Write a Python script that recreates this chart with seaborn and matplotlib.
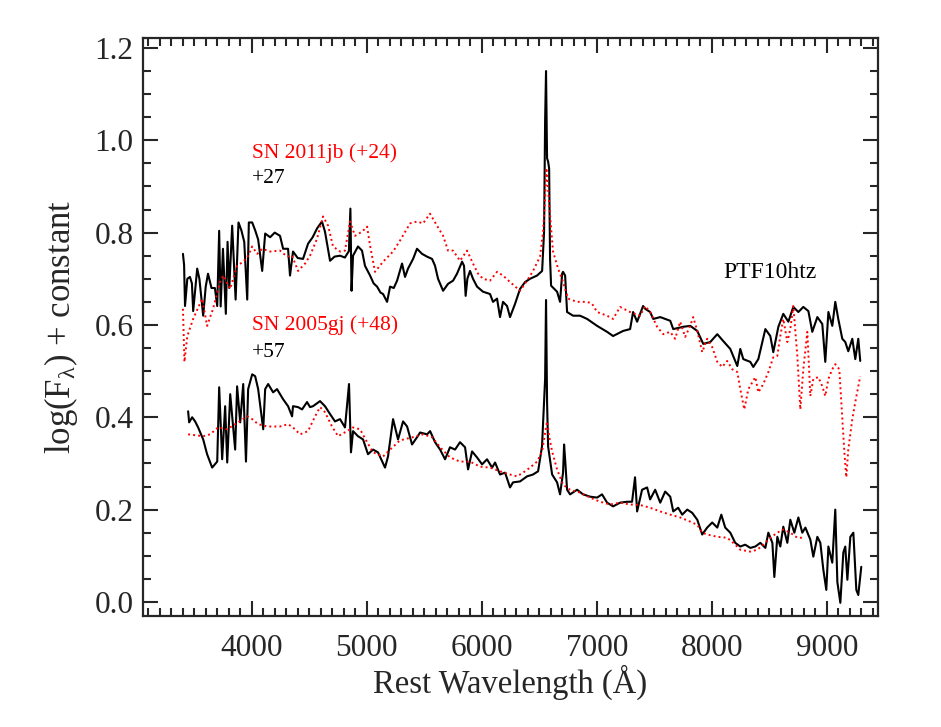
import matplotlib
matplotlib.use("Agg")
import matplotlib.pyplot as plt
import seaborn as sns
from matplotlib.ticker import MultipleLocator, FormatStrFormatter

# PTF10htz at +27 d (upper, black) and SN 2011jb at +24 d (upper, red)
ptf27_wave = [3402, 3412, 3420, 3440, 3463, 3480, 3491, 3526, 3545, 3578, 3600, 3620, 3650, 3680,
              3700, 3717, 3730, 3750, 3775, 3790, 3805, 3830, 3860, 3885, 3910, 3935, 3961, 3975,
              4004, 4030, 4056, 4091, 4117, 4160, 4200, 4246, 4273, 4316, 4333, 4359, 4400, 4446,
              4490, 4530, 4568, 4611, 4637, 4681, 4720, 4768, 4810, 4845, 4858, 4868, 4881, 4924,
              4959, 4985, 5029, 5060, 5090, 5120, 5142, 5177, 5203, 5235, 5264, 5307, 5333, 5359,
              5403, 5437, 5481, 5524, 5568, 5594, 5620, 5664, 5707, 5751, 5785, 5829, 5846, 5860,
              5875, 5898, 5924, 5959, 6011, 6072, 6098, 6133, 6159, 6185, 6220, 6246, 6290, 6333,
              6377, 6420, 6481, 6525, 6542, 6551, 6559, 6568, 6577, 6586, 6594, 6603, 6655, 6681,
              6699, 6707, 6725, 6742, 6794, 6855, 6916, 7003, 7090, 7142, 7229, 7290, 7316, 7351,
              7403, 7421, 7464, 7491, 7552, 7639, 7665, 7752, 7813, 7874, 7926, 7987, 8048, 8100,
              8161, 8222, 8248, 8274, 8335, 8361, 8405, 8466, 8509, 8535, 8579, 8622, 8666, 8709,
              8753, 8796, 8840, 8874, 8918, 8961, 8987, 9014, 9048, 9074, 9100, 9135, 9161, 9187,
              9222, 9248, 9274, 9291]
ptf27_flux = [0.754, 0.730, 0.641, 0.700, 0.704, 0.690, 0.630, 0.722, 0.700, 0.620, 0.683, 0.711, 0.680, 0.680,
              0.641, 0.804, 0.640, 0.765, 0.624, 0.780, 0.680, 0.815, 0.655, 0.822, 0.805, 0.780, 0.655, 0.822,
              0.822, 0.805, 0.785, 0.717, 0.798, 0.790, 0.800, 0.793, 0.765, 0.765, 0.707, 0.759, 0.745, 0.743,
              0.776, 0.790, 0.809, 0.824, 0.802, 0.739, 0.748, 0.750, 0.746, 0.760, 0.852, 0.674, 0.750, 0.770,
              0.761, 0.728, 0.707, 0.690, 0.683, 0.670, 0.667, 0.650, 0.683, 0.680, 0.696, 0.733, 0.704, 0.722,
              0.743, 0.765, 0.754, 0.748, 0.743, 0.728, 0.700, 0.674, 0.689, 0.696, 0.711, 0.737, 0.728, 0.663,
              0.700, 0.717, 0.700, 0.683, 0.672, 0.667, 0.650, 0.657, 0.617, 0.650, 0.641, 0.617, 0.646, 0.678,
              0.693, 0.700, 0.707, 0.717, 0.802, 1.043, 1.150, 0.961, 0.954, 0.939, 0.743, 0.685, 0.672, 0.650,
              0.711, 0.715, 0.707, 0.628, 0.620, 0.620, 0.613, 0.598, 0.585, 0.576, 0.587, 0.591, 0.628, 0.607,
              0.641, 0.635, 0.628, 0.613, 0.617, 0.609, 0.591, 0.596, 0.598, 0.587, 0.559, 0.563, 0.580, 0.565,
              0.548, 0.511, 0.548, 0.526, 0.520, 0.509, 0.526, 0.591, 0.576, 0.541, 0.596, 0.624, 0.607, 0.639,
              0.628, 0.639, 0.630, 0.585, 0.617, 0.602, 0.520, 0.628, 0.598, 0.650, 0.613, 0.570, 0.563, 0.543,
              0.570, 0.526, 0.570, 0.522]

sn11jb_wave = [3402, 3415, 3440, 3491, 3569, 3612, 3664, 3725, 3752, 3812, 3873, 3926, 3969, 4004,
               4048, 4091, 4160, 4246, 4307, 4351, 4403, 4464, 4507, 4568, 4620, 4664, 4707, 4768,
               4811, 4855, 4898, 4959, 5003, 5029, 5072, 5142, 5229, 5290, 5377, 5437, 5490, 5550,
               5611, 5664, 5707, 5751, 5811, 5872, 5924, 5968, 6011, 6072, 6133, 6185, 6246, 6333,
               6394, 6446, 6507, 6533, 6550, 6562, 6575, 6594, 6620, 6664, 6707, 6751, 6829, 6916,
               6959, 7003, 7090, 7142, 7203, 7290, 7377, 7421, 7464, 7525, 7578, 7639, 7682, 7725,
               7769, 7812, 7839, 7874, 7917, 7960, 8004, 8048, 8091, 8134, 8178, 8222, 8248, 8283,
               8318, 8379, 8405, 8448, 8492, 8535, 8570, 8596, 8622, 8657, 8683, 8709, 8744, 8770,
               8796, 8831, 8857, 8883, 8927, 8961, 8987, 9014, 9048, 9074, 9109, 9135, 9153, 9170,
               9187, 9222, 9248, 9291]
sn11jb_flux = [0.635, 0.520, 0.576, 0.613, 0.657, 0.598, 0.635, 0.693, 0.707, 0.678, 0.728, 0.737, 0.750, 0.770,
               0.754, 0.765, 0.759, 0.761, 0.748, 0.750, 0.717, 0.733, 0.750, 0.787, 0.835, 0.815, 0.770, 0.759,
               0.761, 0.824, 0.793, 0.802, 0.813, 0.772, 0.715, 0.737, 0.759, 0.783, 0.820, 0.824, 0.820, 0.841,
               0.815, 0.793, 0.761, 0.761, 0.739, 0.761, 0.733, 0.711, 0.700, 0.696, 0.715, 0.707, 0.693, 0.674,
               0.696, 0.717, 0.748, 0.802, 0.870, 0.940, 0.900, 0.837, 0.759, 0.722, 0.693, 0.657, 0.650, 0.650,
               0.646, 0.628, 0.620, 0.613, 0.639, 0.628, 0.620, 0.641, 0.628, 0.596, 0.580, 0.585, 0.570, 0.607,
               0.574, 0.598, 0.617, 0.587, 0.541, 0.570, 0.552, 0.520, 0.509, 0.522, 0.504, 0.498, 0.461, 0.417,
               0.461, 0.487, 0.454, 0.472, 0.498, 0.530, 0.533, 0.576, 0.613, 0.563, 0.591, 0.641, 0.533, 0.417,
               0.504, 0.585, 0.446, 0.483, 0.487, 0.467, 0.446, 0.483, 0.504, 0.515, 0.504, 0.396, 0.324, 0.270,
               0.330, 0.396, 0.433, 0.489]

# PTF10htz at +57 d (lower, black) and SN 2005gj at +48 d (lower, red)
ptf57_wave = [3447, 3456, 3482, 3508, 3534, 3578, 3612, 3656, 3700, 3717, 3743, 3769, 3787, 3813,
              3856, 3873, 3900, 3926, 3950, 3969, 4004, 4030, 4056, 4100, 4117, 4143, 4186, 4220,
              4273, 4316, 4351, 4359, 4403, 4438, 4481, 4507, 4533, 4594, 4637, 4681, 4724, 4768,
              4811, 4846, 4863, 4881, 4924, 4968, 5011, 5055, 5098, 5159, 5185, 5229, 5272, 5316,
              5351, 5394, 5438, 5464, 5525, 5551, 5594, 5638, 5681, 5724, 5768, 5811, 5855, 5881,
              5916, 5959, 6003, 6046, 6090, 6116, 6159, 6203, 6246, 6272, 6333, 6394, 6446, 6490,
              6524, 6542, 6551, 6559, 6568, 6577, 6612, 6655, 6681, 6707, 6716, 6725, 6742, 6768,
              6829, 6881, 6942, 7003, 7046, 7090, 7142, 7203, 7264, 7307, 7333, 7351, 7394, 7438,
              7464, 7508, 7552, 7595, 7639, 7665, 7708, 7743, 7787, 7830, 7874, 7917, 7960, 8004,
              8048, 8083, 8117, 8161, 8204, 8248, 8291, 8335, 8379, 8422, 8466, 8492, 8527, 8544,
              8570, 8596, 8622, 8657, 8683, 8718, 8753, 8787, 8814, 8857, 8883, 8918, 8944, 8970,
              8996, 9014, 9048, 9074, 9092, 9118, 9144, 9161, 9179, 9205, 9231, 9257, 9274, 9300]
ptf57_flux = [0.413, 0.389, 0.400, 0.391, 0.378, 0.352, 0.320, 0.291, 0.304, 0.465, 0.309, 0.424, 0.302, 0.450,
              0.330, 0.467, 0.389, 0.472, 0.304, 0.461, 0.493, 0.489, 0.461, 0.374, 0.461, 0.472, 0.454, 0.461,
              0.439, 0.424, 0.402, 0.424, 0.422, 0.417, 0.433, 0.422, 0.424, 0.435, 0.424, 0.407, 0.391, 0.396,
              0.378, 0.472, 0.324, 0.370, 0.359, 0.352, 0.320, 0.330, 0.324, 0.291, 0.315, 0.396, 0.352, 0.391,
              0.380, 0.341, 0.357, 0.367, 0.363, 0.370, 0.346, 0.330, 0.309, 0.335, 0.330, 0.346, 0.335, 0.287,
              0.326, 0.313, 0.298, 0.309, 0.291, 0.302, 0.276, 0.280, 0.248, 0.259, 0.261, 0.272, 0.276, 0.283,
              0.337, 0.433, 0.483, 0.654, 0.433, 0.337, 0.276, 0.259, 0.233, 0.280, 0.341, 0.309, 0.243, 0.233,
              0.243, 0.233, 0.228, 0.226, 0.233, 0.215, 0.207, 0.215, 0.217, 0.217, 0.270, 0.196, 0.243, 0.248,
              0.222, 0.243, 0.215, 0.239, 0.228, 0.196, 0.204, 0.189, 0.200, 0.193, 0.178, 0.146, 0.161, 0.172,
              0.161, 0.189, 0.161, 0.150, 0.128, 0.120, 0.124, 0.117, 0.120, 0.128, 0.117, 0.150, 0.128, 0.054,
              0.141, 0.120, 0.163, 0.128, 0.178, 0.150, 0.183, 0.150, 0.161, 0.135, 0.098, 0.141, 0.128, 0.070,
              0.026, 0.120, 0.085, 0.200, 0.043, -0.002, 0.107, 0.120, 0.048, 0.141, 0.150, 0.026, 0.015, 0.076]

sn05gj_wave = [3447, 3578, 3638, 3708, 3786, 3856, 3961, 4004, 4056, 4134, 4246, 4316, 4359, 4420,
               4490, 4551, 4594, 4637, 4698, 4751, 4829, 4881, 4942, 5003, 5055, 5142, 5203, 5272,
               5290, 5403, 5490, 5568, 5638, 5724, 5811, 5898, 5985, 6072, 6159, 6246, 6307, 6359,
               6420, 6481, 6525, 6551, 6568, 6586, 6612, 6655, 6707, 6768, 6855, 6942, 7029, 7116,
               7203, 7290, 7377, 7464, 7552, 7639, 7725, 7812, 7874, 7917, 7960, 8048, 8134, 8187,
               8248, 8335, 8396, 8448, 8509, 8570, 8622, 8683, 8744, 8796]
sn05gj_flux = [0.363, 0.359, 0.363, 0.378, 0.374, 0.385, 0.402, 0.396, 0.385, 0.380, 0.380, 0.385, 0.378, 0.363,
               0.370, 0.402, 0.422, 0.411, 0.380, 0.359, 0.370, 0.378, 0.374, 0.346, 0.324, 0.315, 0.330, 0.346,
               0.350, 0.357, 0.363, 0.357, 0.335, 0.313, 0.304, 0.304, 0.293, 0.291, 0.283, 0.276, 0.272, 0.280,
               0.291, 0.304, 0.326, 0.367, 0.391, 0.359, 0.326, 0.287, 0.254, 0.243, 0.237, 0.226, 0.217, 0.211,
               0.215, 0.211, 0.210, 0.204, 0.196, 0.189, 0.183, 0.174, 0.167, 0.150, 0.146, 0.141, 0.139, 0.128,
               0.113, 0.109, 0.113, 0.124, 0.139, 0.150, 0.157, 0.150, 0.139, 0.139]

sns.set_style("ticks")
plt.rcParams['font.family'] = ['Liberation Serif', 'DejaVu Serif']
plt.rcParams['mathtext.fontset'] = 'custom'
plt.rcParams['mathtext.rm'] = 'Liberation Serif'
plt.rcParams['mathtext.it'] = 'Liberation Serif:italic'

fig = plt.figure(figsize=(9.41, 7.27), dpi=100)
ax = fig.add_axes([0.152, 0.153, 0.781, 0.795])

dots = (0, (1, 1.6))
sns.lineplot(x=ptf27_wave, y=ptf27_flux, ax=ax, color='black', linewidth=1.5,
             sort=False, estimator=None)
sns.lineplot(x=sn11jb_wave, y=sn11jb_flux, ax=ax, color='red', linewidth=1.4,
             linestyle=dots, sort=False, estimator=None)
sns.lineplot(x=ptf57_wave, y=ptf57_flux, ax=ax, color='black', linewidth=1.5,
             sort=False, estimator=None)
sns.lineplot(x=sn05gj_wave, y=sn05gj_flux, ax=ax, color='red', linewidth=1.4,
             linestyle=dots, sort=False, estimator=None)

ax.text(4000, 0.961, 'SN 2011jb (+24)', color='red', fontsize=15.5, ha='left', va='baseline')
ax.text(4000, 0.907, '+27', color='black', fontsize=15.5, ha='left', va='baseline')
ax.text(4000, 0.588, 'SN 2005gj (+48)', color='red', fontsize=15.5, ha='left', va='baseline')
ax.text(4000, 0.530, '+57', color='black', fontsize=15.5, ha='left', va='baseline')
ax.text(8100, 0.702, 'PTF10htz', color='black', fontsize=17, ha='left', va='baseline')

ax.set_xlim(3055, 9445)
ax.set_ylim(-0.03, 1.222)
ax.xaxis.set_major_locator(MultipleLocator(1000))
ax.xaxis.set_minor_locator(MultipleLocator(100))
ax.yaxis.set_major_locator(MultipleLocator(0.2))
ax.yaxis.set_minor_locator(MultipleLocator(0.05))
ax.yaxis.set_major_formatter(FormatStrFormatter('%.1f'))
ax.tick_params(which='both', direction='in', top=True, right=True, width=1.5)
ax.tick_params(which='major', length=11, labelsize=22.5)
ax.tick_params(axis='x', which='major', pad=13)
ax.tick_params(axis='y', which='major', pad=7)
ax.tick_params(which='minor', length=5.5)
for sp in ax.spines.values():
    sp.set_linewidth(1.6)

ax.set_xlabel('Rest Wavelength (Å)', fontsize=23.5, labelpad=1)
ax.set_ylabel(r'log(F$_{\mathrm{\lambda}}$) + constant', fontsize=25, labelpad=10)

fig.savefig('out.png', dpi=100)
